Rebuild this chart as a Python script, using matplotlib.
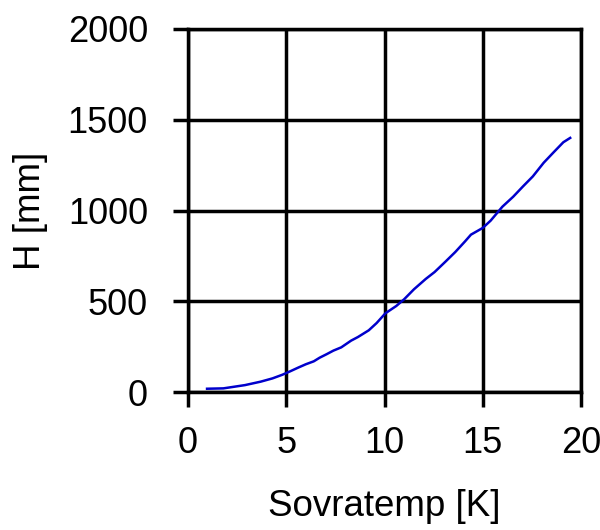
import matplotlib
matplotlib.use("Agg")
import matplotlib.pyplot as plt

# Data
sovratemp = [0.97, 1.8, 2.9, 3.7, 4.3, 4.8, 5.2, 5.6, 6.0, 6.4, 6.7, 7.05,
             7.4, 7.8, 8.3, 8.65, 9.2, 9.6, 10.05, 10.6, 11.0, 11.5, 12.1,
             12.55, 13.1, 13.6, 14.1, 14.4, 15.0, 15.4, 16.0, 16.55, 17.05,
             17.55, 18.1, 18.6, 19.1, 19.45]
h_mm = [18, 20, 38, 57, 75, 95, 114, 134, 153, 169, 189, 208,
        228, 246, 283, 303, 340, 380, 434, 474, 511, 566, 623,
        661, 718, 771, 830, 867, 904, 944, 1021, 1076, 1133,
        1188, 1263, 1320, 1376, 1400]
x_ticks = [0, 5, 10, 15, 20]
y_ticks = [0, 500, 1000, 1500, 2000]

plt.rcParams['font.family'] = ['Liberation Sans', 'DejaVu Sans']

fig = plt.figure(figsize=(6.0, 5.3), dpi=100)
ax = fig.add_axes([188/600, 1-392/530, (581-188)/600, (392-29)/530])

ax.plot(sovratemp, h_mm, color='#0000CC', linewidth=1.8, zorder=3)

ax.set_xlim(0, 20)
ax.set_ylim(0, 2000)
ax.set_xticks(x_ticks)
ax.set_yticks(y_ticks)
ax.grid(True, color='black', linewidth=2.5)
ax.set_axisbelow(True)
for s in ax.spines.values():
    s.set_linewidth(2.5)
    s.set_color('black')

ax.tick_params(axis='both', direction='out', length=10.8, width=2.5,
               labelsize=26, colors='black')
ax.tick_params(axis='y', pad=18)
ax.tick_params(axis='x', pad=14)

ax.set_xlabel('Sovratemp [K]', fontsize=26.5, labelpad=20)
ax.set_ylabel('H [mm]', fontsize=26.5, labelpad=14)

fig.savefig('out.png', dpi=100)
